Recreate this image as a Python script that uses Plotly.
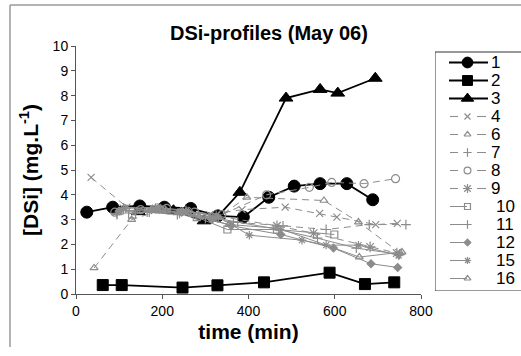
import plotly.graph_objects as go

# Sampling times (min) and dissolved silica (mg/L) per profile
t1 = [25, 85, 148, 205, 266, 329, 388, 447, 506, 566, 628, 688]
s1 = [3.3, 3.5, 3.55, 3.5, 3.45, 3.15, 3.1, 3.9, 4.35, 4.45, 4.45, 3.8]

t2 = [62, 106, 247, 328, 436, 588, 670, 738]
s2 = [0.36, 0.36, 0.26, 0.35, 0.47, 0.86, 0.40, 0.47]

t3 = [145, 226, 297, 330, 380, 487, 566, 607, 694]
s3 = [3.32, 3.36, 2.95, 3.15, 4.1, 7.9, 8.25, 8.1, 8.7]

t4 = [35, 118, 190, 250, 310, 385, 485, 565, 605, 695, 745]
s4 = [4.7, 3.5, 3.45, 3.35, 3.2, 3.4, 3.5, 3.25, 3.1, 2.8, 2.85]

t6 = [42, 129, 200, 270, 330, 396, 575, 655, 752]
s6 = [1.05, 3.0, 3.4, 3.2, 3.1, 3.9, 3.77, 2.9, 1.65]

t7 = [95, 165, 235, 300, 365, 480, 580, 680, 765]
s7 = [3.2, 3.3, 3.2, 3.05, 2.9, 2.75, 2.6, 2.8, 2.8]

t8 = [90, 150, 210, 275, 338, 442, 541, 593, 668, 741]
s8 = [3.3, 3.4, 3.45, 3.3, 3.2, 4.0, 4.3, 4.5, 4.45, 4.65]

t9 = [110, 185, 255, 325, 466, 551, 682, 744]
s9 = [3.45, 3.45, 3.35, 3.15, 2.75, 2.45, 1.9, 1.65]

t10 = [130, 200, 280, 351, 466, 599]
s10 = [3.2, 3.4, 3.1, 2.6, 2.6, 2.4]

t11 = [95, 170, 240, 310, 375, 470, 560, 650, 750]
s11 = [3.25, 3.3, 3.25, 3.1, 2.9, 2.6, 2.25, 1.85, 1.6]

t12 = [100, 175, 245, 315, 360, 475, 597, 684, 746]
s12 = [3.35, 3.4, 3.3, 3.0, 2.75, 2.4, 1.85, 1.22, 1.07]

t15 = [115, 190, 260, 330, 402, 524, 580, 655, 748]
s15 = [3.45, 3.5, 3.35, 3.1, 2.37, 2.17, 1.97, 1.97, 1.55]

t16 = [140, 210, 285, 355, 470, 657, 756]
s16 = [3.35, 3.35, 3.1, 2.8, 2.65, 1.49, 1.69]

GREY = "#8c8c8c"
DASH = "7px,5px"
FONT = "Liberation Sans, Arial, sans-serif"

# name, times, values, colour, symbol, marker size, line dash, line width, kind
series = [
    ("1", t1, s1, "black", "circle", 12, "solid", 1.8, "black"),
    ("2", t2, s2, "black", "square", 11, "solid", 1.8, "black"),
    ("3", t3, s3, "black", "triangle-up", 12, "solid", 1.8, "black"),
    ("4", t4, s4, GREY, "x-thin", 7, DASH, 1, "dash"),
    ("6", t6, s6, GREY, "triangle-up-open", 7, DASH, 1, "dash"),
    ("7", t7, s7, GREY, "cross-thin", 7, DASH, 1, "dash"),
    ("8", t8, s8, GREY, "circle-open", 8, DASH, 1, "dash"),
    ("9", t9, s9, GREY, "asterisk-open", 9, DASH, 1, "dash"),
    ("10", t10, s10, GREY, "square-open", 7, "solid", 1, "solid"),
    ("11", t11, s11, GREY, "cross-thin", 7, "solid", 1, "solid"),
    ("12", t12, s12, GREY, "diamond", 6, "solid", 1, "solid"),
    ("15", t15, s15, GREY, "asterisk-open", 7, "solid", 1, "solid"),
    ("16", t16, s16, GREY, "triangle-up-open", 7, "solid", 1, "solid"),
]

fig = go.Figure()

for name, t, s, col, sym, size, dash, lw, kind in series:
    fig.add_trace(go.Scatter(
        x=t, y=s, name=name, mode="lines+markers", showlegend=False,
        line=dict(color=col, width=lw, dash=dash),
        marker=dict(symbol=sym, size=size, color=col,
                    line=dict(color=col, width=1.2 if col != "black" else 1)),
        xaxis="x", yaxis="y",
    ))

# Key panel drawn on its own pixel-scaled axes to the right of the plot
KEY_TOP, KEY_STEP = 62.5, 18.0
annotations = []
for i, (name, t, s, col, sym, size, dash, lw, kind) in enumerate(series):
    yk = KEY_TOP + i * KEY_STEP
    if kind == "black":
        segs = [(449, 488)]
    elif kind == "dash":
        segs = [(450, 458), (477, 486)]
    else:
        segs = [(450, 467)]
    for a, b in segs:
        fig.add_trace(go.Scatter(
            x=[a, b], y=[yk, yk], mode="lines", showlegend=False,
            hoverinfo="skip", line=dict(color=col, width=lw),
            xaxis="x2", yaxis="y2",
        ))
    fig.add_trace(go.Scatter(
        x=[467.5], y=[yk], mode="markers", showlegend=False, hoverinfo="skip",
        marker=dict(symbol=sym, size=size * 0.9 if col == "black" else size * 0.85,
                    color=col, line=dict(color=col, width=1.2 if col != "black" else 1)),
        xaxis="x2", yaxis="y2",
    ))
    annotations.append(dict(
        text=name, x=489 if len(name) == 1 else 494, y=yk, xref="x2", yref="y2",
        xanchor="left", yanchor="middle", showarrow=False,
        font=dict(size=17, family=FONT, color="black"),
    ))

annotations.append(dict(
    text="<b>DSi-profiles (May 06)</b>", xref="paper", yref="paper",
    x=(269 - 76) / 445, y=(294 - 33) / 248, xanchor="center", yanchor="middle",
    showarrow=False, font=dict(size=20, family=FONT, color="black"),
))

fig.update_layout(
    width=521, height=356,
    margin=dict(l=76, r=0, t=46, b=62, autoexpand=False),
    paper_bgcolor="white", plot_bgcolor="white",
    font=dict(family=FONT, color="black", size=14),
    showlegend=False,
    xaxis=dict(
        domain=[0, 345 / 445],
        range=[0, 800], tickvals=[0, 200, 400, 600, 800],
        showgrid=False, zeroline=False, showline=True,
        linecolor="#555555", linewidth=1,
        ticks="outside", ticklen=4, tickcolor="#555555",
        tickfont=dict(size=14), fixedrange=True, automargin=False,
        title=dict(text="<b>time (min)</b>", font=dict(size=21), standoff=6),
    ),
    yaxis=dict(
        range=[0, 10], dtick=1,
        showgrid=False, zeroline=False, showline=True,
        linecolor="#555555", linewidth=1,
        ticks="outside", ticklen=4, tickcolor="#555555",
        tickfont=dict(size=14), fixedrange=True, automargin=False,
        title=dict(text="<b>[DSi] (mg.L<sup>-1</sup>)</b>", font=dict(size=21), standoff=8),
    ),
    xaxis2=dict(
        domain=[(435 - 76) / 445, 1], range=[435, 521], anchor="y2",
        visible=False, fixedrange=True,
    ),
    yaxis2=dict(
        domain=[(294 - 291) / 248, 1], range=[291, 46], anchor="x2",
        visible=False, fixedrange=True,
    ),
    annotations=annotations,
    shapes=[
        # key frame
        dict(type="rect", xref="x2", yref="y2", x0=435, x1=530, y0=52, y1=291,
             line=dict(color="#333333", width=1), fillcolor="rgba(0,0,0,0)",
             layer="below"),
        # outer chart border (top and left)
        dict(type="line", xref="paper", yref="paper",
             x0=-66 / 445, x1=1.0, y0=289 / 248, y1=289 / 248,
             line=dict(color="#9a9a9a", width=1.5)),
        dict(type="line", xref="paper", yref="paper",
             x0=-66 / 445, x1=-66 / 445, y0=289 / 248, y1=-53 / 248,
             line=dict(color="#9a9a9a", width=1.5)),
    ],
)

fig.write_html("out.html")
